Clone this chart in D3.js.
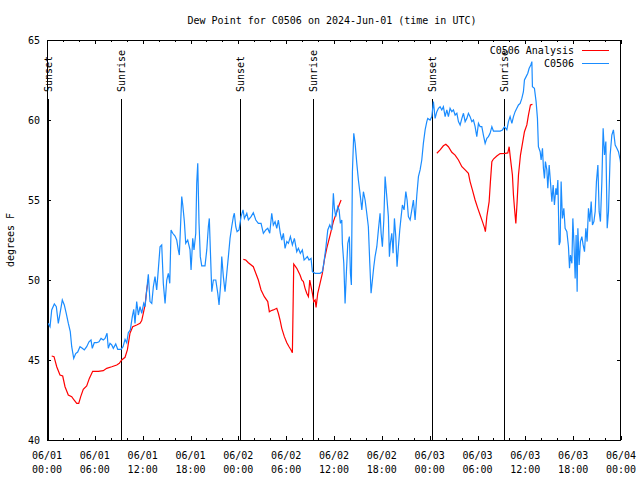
<!DOCTYPE html>
<html><head><meta charset="utf-8">
<script src="https://cdn.jsdelivr.net/npm/d3@7"></script>
<style>
body{margin:0;background:#fff;}
text{font-family:"DejaVu Sans Mono",monospace;font-size:10px;fill:#000;}
</style></head>
<body>
<svg id="chart" width="640" height="480"></svg>
<script>
// ---- Data (hours since 2024-06-01 00:00 UTC) ----
const titleText = "Dew Point for C0506 on 2024-Jun-01 (time in UTC)";
const yLabel = "degrees F";
const seriesNames = ["C0506 Analysis", "C0506"];
const seriesColors = ["#ff0000", "#1a8cff"];
const yTicks = [40, 45, 50, 55, 60, 65];

const sunLabels = ["Sunset","Sunrise","Sunset","Sunrise","Sunset","Sunrise"];
const sunHours  = [0.13, 9.32, 24.25, 33.41, 48.25, 57.36];

const stationHours = [0.16,0.38,0.59,0.92,1.17,1.42,1.63,1.92,2.17,2.42,2.67,2.92,3.10,3.35,3.60,3.85,4.14,4.43,4.68,4.98,5.27,5.52,5.68,5.93,6.24,6.52,6.78,7.06,7.28,7.53,7.69,7.90,8.12,8.32,8.62,8.87,9.28,9.54,9.79,10.00,10.20,10.45,10.70,10.88,11.04,11.25,11.46,11.67,11.88,12.13,12.30,12.51,12.71,12.92,13.14,13.34,13.55,13.76,13.96,14.18,14.39,14.47,14.59,14.81,15.02,15.22,15.40,15.56,15.77,16.06,16.27,16.47,16.60,16.73,16.90,17.03,17.23,17.40,17.65,17.94,18.07,18.28,18.44,18.66,18.78,18.91,19.07,19.23,19.41,19.82,20.04,20.24,20.36,20.49,20.67,20.87,21.17,21.42,21.58,21.79,21.92,22.12,22.33,22.55,22.75,22.96,23.17,23.38,23.50,23.68,23.84,24.09,24.34,24.59,24.76,25.06,25.26,25.60,25.88,26.19,26.51,26.85,27.14,27.44,27.69,27.94,28.19,28.39,28.61,28.82,29.02,29.27,29.45,29.65,29.86,30.08,30.28,30.53,30.78,31.03,31.33,31.53,31.78,32.03,32.25,32.46,32.66,32.87,33.12,33.29,33.63,34.25,34.54,34.72,34.97,35.22,35.47,35.72,35.92,36.05,36.22,36.47,36.64,36.80,36.98,37.05,37.23,37.39,37.55,37.73,37.93,38.06,38.18,38.31,38.48,38.65,38.86,39.06,39.31,39.49,39.69,39.90,40.11,40.31,40.49,40.65,40.82,40.99,41.15,41.37,41.57,41.78,41.91,42.07,42.25,42.41,42.62,42.82,42.95,43.07,43.25,43.41,43.58,43.75,43.91,44.08,44.25,44.42,44.58,44.79,45.01,45.17,45.33,45.55,45.76,45.96,46.17,46.39,46.59,46.80,47.01,47.21,47.43,47.64,47.76,48.06,48.27,48.47,48.68,48.90,49.10,49.31,49.52,49.72,49.94,50.15,50.35,50.56,50.78,50.98,51.19,51.41,51.61,51.82,52.04,52.24,52.45,52.66,52.86,53.07,53.29,53.49,53.70,53.91,54.12,54.33,54.54,54.74,54.96,55.17,55.37,55.58,55.80,56.00,56.42,56.84,57.13,57.38,57.68,57.88,58.09,58.31,58.51,58.72,58.93,59.14,59.35,59.56,59.76,59.89,60.10,60.31,60.48,60.69,60.82,60.89,61.14,61.35,61.52,61.64,61.86,61.98,62.15,62.27,62.40,62.52,62.70,62.82,62.99,63.15,63.33,63.49,63.65,63.83,63.95,64.08,64.24,64.37,64.49,64.65,64.83,64.99,65.21,65.41,65.54,65.66,65.84,65.96,66.09,66.25,66.37,66.50,66.59,66.75,66.91,67.09,67.25,67.42,67.59,67.75,67.92,68.09,68.26,68.42,68.60,68.76,68.92,69.10,69.26,69.42,69.60,69.76,69.93,70.10,70.27,70.43,70.64,70.85,71.05,71.27,71.48,71.68,71.90,71.98];
const stationValues = [47.29,47.08,48.13,48.5,48.33,47.29,47.9,48.75,48.44,47.9,47.3,46.77,45.83,45.1,45.4,45.5,45.83,45.73,45.63,45.83,46.14,46.25,45.73,46.08,46.08,46.14,46.35,46.25,46.35,46.67,45.73,46.04,45.94,45.73,46.0,45.67,45.67,45.83,46.29,46.08,46.71,46.88,47.71,48.17,47.29,48.65,47.81,48.33,47.92,48.54,48.33,49.38,50.35,48.65,48.54,49.58,50.21,49.38,50.63,52.08,52.19,51.25,49.79,48.54,50.0,50.42,49.79,53.13,52.92,52.75,52.5,51.88,51.56,53.13,55.21,54.69,53.65,52.29,52.5,51.88,50.63,52.6,51.88,52.92,56.04,57.29,53.54,51.46,50.88,50.88,51.88,53.33,53.85,51.88,49.27,50.0,50.0,49.17,48.44,49.79,51.46,50.21,49.27,50.42,51.46,52.6,53.33,53.96,54.17,53.33,53.02,53.13,53.96,54.38,53.85,54.17,53.75,53.96,54.21,53.75,53.54,53.54,52.92,53.13,53.23,52.92,54.17,53.44,53.65,53.23,53.75,52.92,52.5,52.92,51.98,52.4,52.29,52.71,52.19,52.6,51.77,51.98,51.67,51.88,51.25,51.35,51.46,51.25,51.35,50.52,50.42,50.42,50.52,51.04,51.98,53.13,53.44,53.13,55.42,54.48,53.96,54.58,54.38,53.54,53.75,52.29,51.04,48.54,50.42,52.29,52.71,50.42,49.69,56.77,59.17,58.54,57.29,56.25,55.21,54.38,55.52,55.0,54.17,53.33,51.04,49.17,50.0,50.83,51.46,52.08,53.13,54.17,52.92,52.08,53.75,56.46,55.21,53.96,51.46,52.29,52.92,51.67,53.85,52.71,50.83,52.08,53.13,53.96,54.69,54.38,55.52,55.0,53.96,53.75,54.38,55.0,53.75,55.31,56.46,56.88,57.5,58.54,59.38,59.9,60.1,60.0,60.21,61.15,60.1,60.52,60.73,60.83,60.63,60.83,60.21,60.63,60.21,60.73,60.52,60.63,60.31,60.42,59.9,59.69,60.1,60.42,59.9,60.1,60.42,60.21,59.9,60.0,59.58,58.96,59.79,59.58,59.58,59.06,58.54,58.85,58.96,59.17,59.58,59.31,59.31,59.31,59.38,59.58,59.38,59.9,60.21,59.79,60.21,60.52,60.73,60.94,61.04,61.35,61.77,62.5,62.71,62.92,63.23,63.44,63.65,62.08,61.98,61.15,60.1,58.33,58.02,57.5,58.23,56.98,56.35,57.4,56.88,55.73,57.19,56.15,54.9,55.94,54.69,55.73,55.31,56.25,52.19,52.4,56.15,53.85,54.48,53.23,53.02,52.08,50.73,51.56,51.04,53.85,52.4,50.1,52.81,49.27,53.23,50.94,52.4,52.71,52.19,51.77,53.23,52.4,54.48,53.65,54.9,53.44,53.65,54.27,56.15,57.19,54.27,53.65,56.15,59.48,57.81,58.65,53.23,54.27,57.81,59.06,59.38,58.44,58.23,58.02,57.5,57.19];

const analysisHours = [0.59,0.88,1.22,1.63,1.97,2.26,2.67,3.10,3.39,3.73,3.98,4.23,4.55,4.98,5.31,5.73,6.44,7.06,7.49,8.12,8.75,9.07,9.37,9.79,10.08,10.41,10.75,11.25,11.67,11.88,12.08,12.30,12.51,12.71,
  18.0,
  24.63,24.93,25.26,25.88,26.19,26.51,26.85,27.26,27.69,27.89,28.10,28.39,28.82,29.02,29.23,29.45,29.77,30.08,30.36,30.61,30.78,30.95,31.33,31.74,31.96,32.16,32.37,32.58,32.79,32.96,33.12,33.29,33.46,33.63,33.75,33.96,34.25,34.54,34.79,35.09,35.51,35.92,36.35,36.64,36.89,
  42.0,
  48.90,49.31,49.72,50.03,50.35,50.78,51.19,51.61,52.04,52.45,52.86,53.07,53.36,53.70,54.04,54.33,54.62,54.87,54.99,55.17,55.46,55.62,55.80,56.00,56.42,56.84,57.47,57.80,57.97,58.13,58.38,58.51,58.64,58.81,58.97,59.14,59.39,59.64,59.89,60.19,60.39,60.64,60.89];
const analysisValues = [45.25,45.21,44.58,44.06,44.0,43.33,42.81,42.71,42.5,42.29,42.29,42.71,43.17,43.38,43.85,44.29,44.29,44.33,44.48,44.58,44.69,44.79,45.0,45.17,45.63,46.67,47.08,47.19,47.29,47.46,47.92,48.44,49.38,50.04,
  null,
  51.29,51.25,51.08,50.83,50.42,50.0,49.38,48.96,48.65,48.02,48.08,48.13,48.23,47.92,47.5,46.98,46.46,46.08,45.83,45.63,45.46,51.0,50.73,50.31,50.0,49.9,49.48,49.17,48.96,50.0,49.58,49.17,48.65,48.75,48.29,49.17,49.79,50.42,51.25,51.98,52.81,53.65,54.27,54.69,55.0,
  null,
  57.92,58.13,58.39,58.48,58.33,57.98,57.81,57.5,57.08,56.88,56.67,56.15,55.63,55.0,54.48,54.06,53.65,53.27,53.02,53.96,54.9,56.15,57.4,57.56,57.75,57.9,57.92,57.94,58.33,57.6,56.56,55.31,54.48,53.54,54.9,56.56,57.81,58.54,59.27,59.69,60.31,60.94,60.98];

// ---- Drawing ----
const t0 = Date.UTC(2024, 5, 1);
const toDate = h => new Date(t0 + h * 3600e3);
const svg = d3.select("#chart");
const L = 47, R = 621, T = 40, B = 440;

const x = d3.scaleUtc().domain([toDate(0), toDate(72)]).range([L, R]);
const y = d3.scaleLinear().domain([40, 65]).range([B, T]);

const majorTicks = d3.utcHour.every(6).range(toDate(0), toDate(72.01));
const minorTicks = d3.utcHour.every(2).range(toDate(0), toDate(72.01)).filter(d => d.getUTCHours() % 6 !== 0);

function clean(g){ g.select(".domain").remove(); g.selectAll(".tick line").attr("stroke","#000").attr("shape-rendering","crispEdges"); }

svg.append("g").attr("transform",`translate(0,${B})`).call(d3.axisBottom(x).tickValues(majorTicks).tickSize(-4).tickFormat("")).call(clean);
svg.append("g").attr("transform",`translate(0,${B})`).call(d3.axisBottom(x).tickValues(minorTicks).tickSize(-2).tickFormat("")).call(clean);
svg.append("g").attr("transform",`translate(0,${T})`).call(d3.axisTop(x).tickValues(majorTicks).tickSize(-4).tickFormat("")).call(clean);
svg.append("g").attr("transform",`translate(0,${T})`).call(d3.axisTop(x).tickValues(minorTicks).tickSize(-2).tickFormat("")).call(clean);

const yAx = svg.append("g").attr("transform",`translate(${L},0)`).call(d3.axisLeft(y).tickValues(yTicks).tickSize(-4).tickPadding(7).tickFormat(d3.format("d"))).call(clean);
yAx.selectAll("text").attr("font-family",null).attr("font-size",null);
svg.append("g").attr("transform",`translate(${R},0)`).call(d3.axisRight(y).tickValues(yTicks).tickSize(-4).tickFormat("")).call(clean);

// x tick labels (two lines)
const fmtD = d3.utcFormat("%m/%d"), fmtT = d3.utcFormat("%H:%M");
const xl = svg.append("g").selectAll("text").data(majorTicks).join("text")
  .attr("x", d => x(d)).attr("text-anchor","middle");
xl.append("tspan").attr("x", d => x(d)).attr("y", 459).text(fmtD);
xl.append("tspan").attr("x", d => x(d)).attr("y", 473).text(fmtT);

// sunrise / sunset
const sun = svg.append("g");
sun.selectAll("line").data(sunHours).join("line")
  .attr("x1", d => Math.round(x(toDate(d))) + 0.5).attr("x2", d => Math.round(x(toDate(d))) + 0.5)
  .attr("y1", 99).attr("y2", B).attr("stroke","#000").attr("stroke-width",1);
sun.selectAll("text").data(sunHours).join("text")
  .attr("transform", d => `translate(${Math.round(x(toDate(d))) + 4},92) rotate(-90)`)
  .text((d,i) => sunLabels[i]);

// series
const line = d3.line().defined(d => d[1] !== null).x(d => x(toDate(d[0]))).y(d => y(d[1]));
const aData = analysisHours.map((h,i) => [h, analysisValues[i]]);
const sData = stationHours.map((h,i) => [h, stationValues[i]]);
const clip = svg.append("clipPath").attr("id","pc").append("rect").attr("x",L).attr("y",T).attr("width",R-L).attr("height",B-T);
svg.append("path").datum(aData).attr("d", line).attr("fill","none").attr("stroke",seriesColors[0]).attr("stroke-width",1.2).attr("clip-path","url(#pc)");
svg.append("path").datum(sData).attr("d", line).attr("fill","none").attr("stroke",seriesColors[1]).attr("stroke-width",1.2).attr("clip-path","url(#pc)");

// border
svg.append("rect").attr("x",L+0.5).attr("y",T+0.5).attr("width",R-L-1).attr("height",B-T).attr("fill","none").attr("stroke","#000").attr("shape-rendering","crispEdges");

// title & labels
svg.append("text").attr("x",332).attr("y",24).attr("text-anchor","middle").text(titleText);
svg.append("text").attr("transform","translate(14,240) rotate(-90)").attr("text-anchor","middle").text(yLabel);

// legend
const lg = svg.append("g");
seriesNames.forEach((n,i) => {
  const yy = 50 + i*13;
  lg.append("text").attr("x",574).attr("y",yy).attr("dy","0.35em").attr("text-anchor","end").text(n);
  lg.append("line").attr("x1",582).attr("x2",609).attr("y1",yy+0.5).attr("y2",yy+0.5).attr("stroke",seriesColors[i]).attr("stroke-width",1);
});
</script>
</body></html>
